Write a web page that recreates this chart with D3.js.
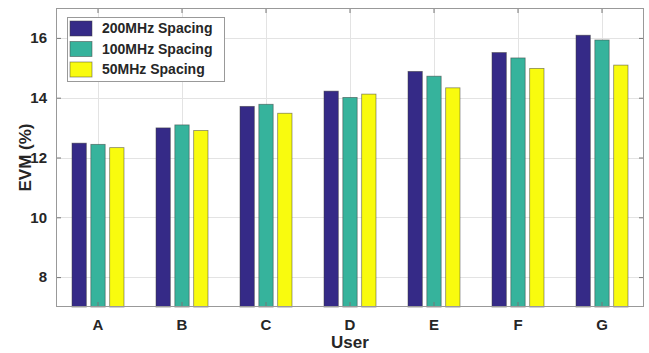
<!DOCTYPE html>
<html>
<head>
<meta charset="utf-8">
<script src="https://cdn.jsdelivr.net/npm/d3@7"></script>
<style>
	body { margin: 0; background: #fff; }
	text { font-family: Arial, "Liberation Sans", sans-serif; font-weight: bold; fill: #262626; }
</style>
</head>
<body>
<svg class="chart"></svg>
<script>
// chart data
var users = ["A", "B", "C", "D", "E", "F", "G"];
var seriesNames = ["200MHz Spacing", "100MHz Spacing", "50MHz Spacing"];
var evm200 = [12.48, 12.99, 13.71, 14.22, 14.88, 15.51, 16.09];
var evm100 = [12.44, 13.09, 13.78, 14.01, 14.72, 15.33, 15.93];
var evm50  = [12.33, 12.90, 13.48, 14.12, 14.33, 14.98, 15.09];
var yTicks = [8, 10, 12, 14, 16];
var colors = ["#352a87", "#36b39c", "#f9fb0e"];

var width = 649, height = 353;
var margin = ({top: 8, right: 5, bottom: 46, left: 56});

var svg = d3.select(".chart")
	.attr("width", width)
	.attr("height", height);

// >
var x = d3.scaleBand()
	.domain(users)
	.range([margin.left, width - margin.right])
	.padding(0);

var xs = d3.scaleBand()
	.domain(seriesNames)
	.range([-26, 26])
	.paddingInner(0.24);

// ^
var y = d3.scaleLinear()
	.domain([7, 17])
	.range([height - margin.bottom, margin.top]);

// plot box edges (window.top is taken, so plotTop)
var plotLeft = margin.left, plotRight = width - margin.right;
var plotTop = margin.top, plotBottom = height - margin.bottom;

// grid
var grid = svg.append("g").attr("stroke", "#e3e3e3").attr("stroke-width", 1);
grid.selectAll(".gy").data(yTicks).enter().append("line")
	.attr("x1", plotLeft).attr("x2", plotRight)
	.attr("y1", d => Math.round(y(d)) + 0.5).attr("y2", d => Math.round(y(d)) + 0.5);
grid.selectAll(".gx").data(users).enter().append("line")
	.attr("y1", plotTop).attr("y2", plotBottom)
	.attr("x1", d => Math.round(x(d) + x.bandwidth() / 2) + 0.5)
	.attr("x2", d => Math.round(x(d) + x.bandwidth() / 2) + 0.5);

// bars
var rows = users.map((u, i) => ({user: u, values: [evm200[i], evm100[i], evm50[i]]}));

svg.append("g")
	.selectAll("g").data(rows).enter().append("g")
		.attr("transform", d => `translate(${x(d.user) + x.bandwidth() / 2},0)`)
	.selectAll("rect").data(d => d.values.map((v, k) => ({name: seriesNames[k], value: v, k: k}))).enter().append("rect")
		.attr("x", d => xs(d.name))
		.attr("width", xs.bandwidth())
		.attr("y", d => y(d.value))
		.attr("height", d => y(7) - y(d.value))
		.attr("fill", d => colors[d.k])
		.attr("stroke", "rgba(60,60,60,0.6)")
		.attr("stroke-width", 0.8);

// axes, MATLAB style box with inward ticks
var yAxis = g => g
	.attr("transform", `translate(${plotLeft},0)`)
	.call(d3.axisLeft(y).tickValues(yTicks).tickSizeInner(-5).tickSizeOuter(0).tickPadding(9))
	.call(g => g.select(".domain").remove())
	.call(g => g.selectAll(".tick line").attr("stroke", "#777"))
	.call(g => g.selectAll(".tick text").attr("font-size", 15));

var yAxisR = g => g
	.attr("transform", `translate(${plotRight},0)`)
	.call(d3.axisRight(y).tickValues(yTicks).tickSizeInner(-5).tickSizeOuter(0).tickFormat(""))
	.call(g => g.select(".domain").remove())
	.call(g => g.selectAll(".tick line").attr("stroke", "#777"));

var xAxis = g => g
	.attr("transform", `translate(0,${plotBottom})`)
	.call(d3.axisBottom(x).tickSizeInner(-5).tickSizeOuter(0).tickPadding(12))
	.call(g => g.select(".domain").remove())
	.call(g => g.selectAll(".tick line").attr("stroke", "#777"))
	.call(g => g.selectAll(".tick text").attr("font-size", 15));

var xAxisT = g => g
	.attr("transform", `translate(0,${plotTop})`)
	.call(d3.axisTop(x).tickSizeInner(-5).tickSizeOuter(0).tickFormat(""))
	.call(g => g.select(".domain").remove())
	.call(g => g.selectAll(".tick line").attr("stroke", "#777"));

svg.append("g").call(yAxis);
svg.append("g").call(yAxisR);
svg.append("g").call(xAxis);
svg.append("g").call(xAxisT);

svg.append("rect")
	.attr("x", plotLeft + 0.5).attr("y", plotTop + 0.5)
	.attr("width", plotRight - plotLeft - 1).attr("height", plotBottom - plotTop - 1)
	.attr("fill", "none").attr("stroke", "#999").attr("stroke-width", 1);

// axis titles
svg.append("text")
	.attr("x", (plotLeft + plotRight) / 2).attr("y", 348)
	.attr("text-anchor", "middle").attr("font-size", 17)
	.text("User");

svg.append("text")
	.attr("transform", `translate(31,${(plotTop + plotBottom) / 2}) rotate(-90)`)
	.attr("text-anchor", "middle").attr("font-size", 17)
	.text("EVM (%)");

// legend
var legend = svg.append("g").attr("transform", "translate(67,17)");
legend.append("rect")
	.attr("x", 0.5).attr("y", 0.5).attr("width", 157).attr("height", 64)
	.attr("fill", "#fff").attr("stroke", "#999");

var items = legend.selectAll(".item").data(seriesNames).enter().append("g")
	.attr("transform", (d, i) => `translate(3,${4 + i * 20.5})`);
items.append("rect")
	.attr("width", 22).attr("height", 15)
	.attr("fill", (d, i) => colors[i])
	.attr("stroke", "rgba(60,60,60,0.6)").attr("stroke-width", 0.8);
items.append("text")
	.attr("x", 32).attr("y", 7.5).attr("dy", "0.35em")
	.attr("font-size", 14)
	.text(d => d);
</script>
</body>
</html>
